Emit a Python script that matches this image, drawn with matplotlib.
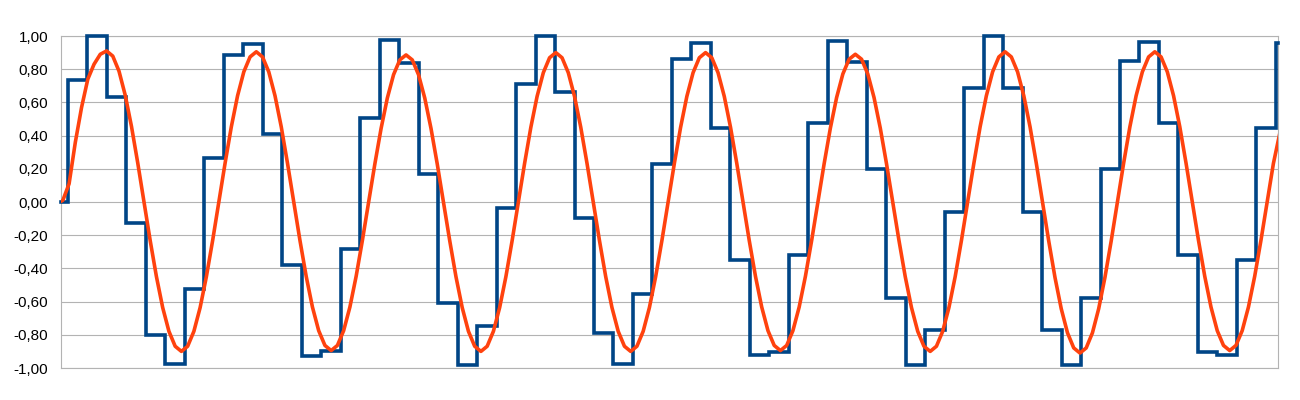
import numpy as np
import matplotlib
matplotlib.use("Agg")
import matplotlib.pyplot as plt
from matplotlib.ticker import FuncFormatter

plt.rcParams['font.family'] = ['Liberation Sans', 'DejaVu Sans']

# ---- data ----------------------------------------------------------------
# sample-and-hold values (blue), one per hold interval
blue_values = [
    0.00, 0.735, 1.00, 0.635, -0.125, -0.80, -0.975, -0.525,
    0.267, 0.886, 0.952, 0.41, -0.38, -0.93, -0.895, -0.283,
    0.504, 0.975, 0.835, 0.169, -0.607, -0.982, -0.747, -0.034,
    0.713, 1.00, 0.663, -0.098, -0.79, -0.978, -0.556, 0.227,
    0.863, 0.956, 0.444, -0.349, -0.922, -0.906, -0.321, 0.474,
    0.97, 0.845, 0.197, -0.576, -0.982, -0.771, -0.06, 0.685,
    1.00, 0.685, -0.06, -0.771, -0.982, -0.576, 0.197, 0.847,
    0.966, 0.474, -0.321, -0.906, -0.922, -0.349, 0.444, 0.956,
]
hold_offset = 0.375      # first change of the held value (in hold units)
x_end = 62.5             # length of the x range (in hold units)

# smooth reconstructed signal (orange), evenly sampled
orange_start = -0.21
orange_step = 0.3203
orange_values = [
    -0.01, 0.01, 0.11, 0.36, 0.57, 0.74, 0.83, 0.89, 0.91,
    0.879, 0.788, 0.643, 0.455, 0.236, 0.0, -0.233, -0.45, -0.636, -0.779, -0.869, -0.90,
    -0.869, -0.779, -0.636, -0.45, -0.233, 0.0, 0.234, 0.453, 0.640, 0.784, 0.874, 0.905,
    0.874, 0.784, 0.640, 0.453, 0.234, 0.0, -0.232, -0.448, -0.633, -0.775, -0.864, -0.895,
    -0.864, -0.775, -0.633, -0.448, -0.232, 0.0, 0.229, 0.443, 0.626, 0.767, 0.856, 0.886,
    0.856, 0.767, 0.626, 0.443, 0.229, 0.0, -0.233, -0.45, -0.636, -0.779, -0.869, -0.90,
    -0.869, -0.779, -0.636, -0.45, -0.233, 0.0, 0.233, 0.45, 0.636, 0.779, 0.869, 0.90,
    0.869, 0.779, 0.636, 0.45, 0.233, 0.0, -0.233, -0.45, -0.636, -0.779, -0.869, -0.90,
    -0.869, -0.779, -0.636, -0.45, -0.233, 0.0, 0.233, 0.45, 0.636, 0.779, 0.869, 0.90,
    0.869, 0.779, 0.636, 0.45, 0.233, 0.0, -0.232, -0.448, -0.633, -0.775, -0.864, -0.895,
    -0.864, -0.775, -0.633, -0.448, -0.232, 0.0, 0.230, 0.445, 0.629, 0.771, 0.860, 0.89,
    0.860, 0.771, 0.629, 0.445, 0.230, 0.0, -0.233, -0.45, -0.636, -0.779, -0.869, -0.90,
    -0.869, -0.779, -0.636, -0.45, -0.233, 0.0, 0.234, 0.453, 0.640, 0.784, 0.874, 0.905,
    0.874, 0.784, 0.640, 0.453, 0.234, 0.0, -0.236, -0.455, -0.643, -0.788, -0.879, -0.91,
    -0.879, -0.788, -0.643, -0.455, -0.236, 0.0, 0.234, 0.453, 0.640, 0.784, 0.874, 0.905,
    0.874, 0.784, 0.640, 0.453, 0.234, 0.0, -0.232, -0.448, -0.633, -0.775, -0.864, -0.895,
    -0.864, -0.775, -0.633, -0.448, -0.232, 0.0, 0.232, 0.41,
]

y_ticks = [-1.0, -0.8, -0.6, -0.4, -0.2, 0.0, 0.2, 0.4, 0.6, 0.8, 1.0]

# ---- figure --------------------------------------------------------------
fig = plt.figure(figsize=(13, 4), dpi=100)
ax = fig.add_axes([60.7 / 1300, 1 - 368 / 400, (1278.3 - 60.7) / 1300, 332 / 400])

grid_c = '#b3b3b3'
ax.set_axisbelow(True)
ax.yaxis.grid(True, color=grid_c, linewidth=0.8)
ax.xaxis.grid(False)
for s in ax.spines.values():
    s.set_color(grid_c)
    s.set_linewidth(0.8)

n_hold = len(blue_values)
bx = np.concatenate([[0.0], np.arange(n_hold - 1) + hold_offset, [x_end]])
by = blue_values + [blue_values[-1]]
ax.step(bx, by, where='post', color='#004586', linewidth=2.6,
        solid_joinstyle='miter', clip_on=False, zorder=3)

ox = orange_start + np.arange(len(orange_values)) * orange_step
ax.plot(ox, orange_values, color='#ff420e', linewidth=2.6,
        solid_joinstyle='round', zorder=4)

ax.set_xlim(0, x_end)
ax.set_ylim(-1.0, 1.0)
ax.set_xticks([])
ax.set_yticks(y_ticks)


def fmt(v, pos):
    s = f"{v:.2f}".replace('.', ',')
    if s == '-0,00':
        s = '0,00'
    return s


ax.yaxis.set_major_formatter(FuncFormatter(fmt))
ax.tick_params(axis='y', length=0, pad=9, labelsize=11, labelcolor='#000000')

fig.savefig('out.png', dpi=100)
